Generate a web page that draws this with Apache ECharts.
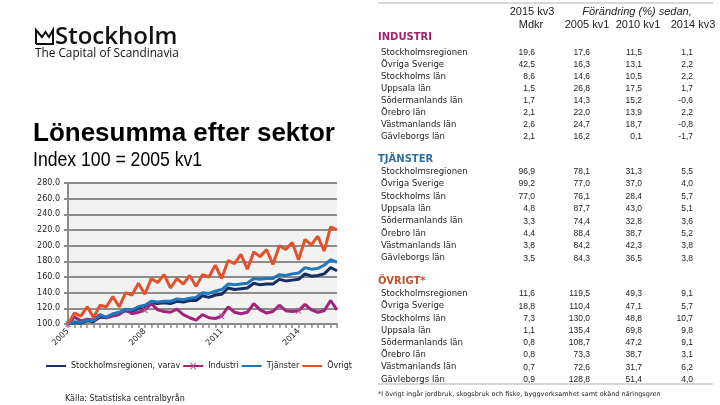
<!DOCTYPE html>
<html><head><meta charset="utf-8">
<script src="https://cdn.jsdelivr.net/npm/echarts@6/dist/echarts.min.js"></script>
<style>html,body{margin:0;padding:0;background:#fff}#c{width:720px;height:405px}</style>
</head><body><div id="c"></div>
<script>
const categories = ['2005 kv1','2005 kv2','2005 kv3','2005 kv4','2006 kv1','2006 kv2','2006 kv3','2006 kv4',
 '2007 kv1','2007 kv2','2007 kv3','2007 kv4','2008 kv1','2008 kv2','2008 kv3','2008 kv4',
 '2009 kv1','2009 kv2','2009 kv3','2009 kv4','2010 kv1','2010 kv2','2010 kv3','2010 kv4',
 '2011 kv1','2011 kv2','2011 kv3','2011 kv4','2012 kv1','2012 kv2','2012 kv3','2012 kv4',
 '2013 kv1','2013 kv2','2013 kv3','2013 kv4','2014 kv1','2014 kv2','2014 kv3','2014 kv4',
 '2015 kv1','2015 kv2','2015 kv3'];
const stockholmsregionen = [100,102,101,104,103,109,108,112,114,117,116,120,122,127,126,127,126,129,128,130,130,136,134,137,138,146,144,145,146,152,150,151,151,157,155,156,157,164,161,162,164,172,168];
const industri = [100,109,104,106,105,112,108,110,112,118,113,115,118,126,118,116,115,119,112,108,105,112,108,107,110,122,115,113,115,126,118,114,116,124,117,116,117,125,118,115,117,130,118];
const tjanster = [100,103,102,105,104,111,109,113,115,119,118,122,124,129,128,129,129,132,131,133,134,140,139,142,144,151,150,151,152,158,157,158,158,163,162,164,165,172,170,171,175,182,179];
const ovrigt = [100,114,110,122,108,124,122,135,122,140,137,152,138,158,153,163,146,158,151,162,148,163,160,175,158,181,177,189,170,192,186,195,176,200,195,204,182,208,201,212,193,224,220];
const yTicks = {min:100, max:280, interval:20};

const rowLabels = ['Stockholmsregionen','Övriga Sverige','Stockholms län','Uppsala län','Södermanlands län','Örebro län','Västmanlands län','Gävleborgs län'];
const industriMdkr = [19.6,42.5,8.6,1.5,1.7,2.1,2.6,2.1];
const industri2005 = [17.6,16.3,14.6,26.8,14.3,22.0,24.7,16.2];
const industri2010 = [11.5,13.1,10.5,17.5,15.2,13.9,18.7,0.1];
const industri2014 = [1.1,2.2,2.2,1.7,-0.6,2.2,-0.8,-1.7];
const tjansterMdkr = [96.9,99.2,77.0,4.8,3.3,4.4,3.8,3.5];
const tjanster2005 = [78.1,77.0,76.1,87.7,74.4,88.4,84.2,84.3];
const tjanster2010 = [31.3,37.0,28.4,43.0,32.8,38.7,42.3,36.5];
const tjanster2014 = [5.5,4.0,5.7,5.1,3.6,5.2,3.8,3.8];
const ovrigtMdkr = [11.6,18.8,7.3,1.1,0.8,0.8,0.7,0.9];
const ovrigt2005 = [119.5,110.4,130.0,135.4,108.7,73.3,72.6,128.8];
const ovrigt2010 = [49.3,47.1,48.8,69.8,47.2,38.7,31.7,51.4];
const ovrigt2014 = [9.1,5.7,10.7,9.8,9.1,3.1,6.2,4.0];

const fmt = v => v.toFixed(1).replace('.', ',');
const G = [];
function txt(x, y, text, font, fill, align, sx) {
  G.push({type:'text', x:x, y:y, scaleX:sx||1, silent:true, style:{text:text, font:font, fill:fill||'#222',
    textAlign:align||'left', align:align||'left', textVerticalAlign:'middle', verticalAlign:'middle'}});
}
// logo
G.push({type:'polyline', silent:true, shape:{points:[[36,44],[36,30],[42,37],[45.5,32],[49,37],[53,30],[53,44],[36,44]]},
  style:{stroke:'#111', lineWidth:2, fill:null}});
txt(55, 37, 'Stockholm', '600 24px "Open Sans"', '#111');
txt(35, 54, 'The Capital of Scandinavia', '11.8px "Open Sans"', '#111');
txt(33, 133.5, 'Lönesumma efter sektor', 'bold 26px "Liberation Sans"', '#000');
txt(33, 160, 'Index 100 = 2005 kv1', '21px "Liberation Sans"', '#000', 'left', 0.84);
txt(65, 399, 'Källa: Statistiska centralbyrån', '8px "DejaVu Sans"', '#222');

// table
G.push({type:'line', silent:true, shape:{x1:378,y1:3,x2:713,y2:3}, style:{stroke:'#d9d9d9', lineWidth:2}});
G.push({type:'line', silent:true, shape:{x1:378,y1:384,x2:713,y2:384}, style:{stroke:'#d9d9d9', lineWidth:2}});
const hf = '11px "Liberation Sans"';
txt(532, 11.7, '2015 kv3', hf, '#222', 'center');
txt(637, 11.7, 'Förändring (%) sedan,', 'italic ' + hf, '#222', 'center');
txt(531, 25, 'Mdkr', hf, '#222', 'center');
txt(587, 25, '2005 kv1', hf, '#222', 'center');
txt(638, 25, '2010 kv1', hf, '#222', 'center');
txt(693, 25, '2014 kv3', hf, '#222', 'center');
const colsX = [535, 590, 642, 693];
function section(title, color, ty, y0, dy, cols) {
  txt(378, ty, title, 'bold 10px "DejaVu Sans"', color);
  rowLabels.forEach((lab, i) => {
    const y = y0 + dy * i;
    txt(381, y, lab, '8.5px "DejaVu Sans"', '#222');
    cols.forEach((arr, c) => txt(colsX[c], y, fmt(arr[i]), '8.5px "Liberation Sans"', '#222', 'right'));
  });
}
section('INDUSTRI', '#a3206f', 37.5, 52.3, 12.05, [industriMdkr, industri2005, industri2010, industri2014]);
section('TJÄNSTER', '#2d6e9f', 159, 171.7, 12.37, [tjansterMdkr, tjanster2005, tjanster2010, tjanster2014]);
section('ÖVRIGT*', '#c0502f', 281.7, 294, 12.2, [ovrigtMdkr, ovrigt2005, ovrigt2010, ovrigt2014]);
txt(378, 394, '*I övrigt ingår jordbruk, skogsbruk och fiske, byggverksamhet samt okänd näringsgren', '6.5px "DejaVu Sans"', '#222');

const xPath = 'path://M0,0 L2,0 L5,3.5 L8,0 L10,0 L6,5 L10,10 L8,10 L5,6.5 L2,10 L0,10 L4,5 Z';
const chart = echarts.init(document.getElementById('c'), null, {renderer:'canvas'});
chart.setOption({
  animation:false,
  backgroundColor:'#fff',
  graphic:G,
  grid:{left:68, right:383, top:183, bottom:81, show:true, backgroundColor:'#f2f2f2', borderWidth:0},
  legend:{left:40, top:357, itemWidth:20, itemHeight:8, itemGap:2,
    textStyle:{fontFamily:'DejaVu Sans', fontSize:8, color:'#222'},
    data:[
      {name:'Stockholmsregionen, varav', itemStyle:{opacity:0}, lineStyle:{width:2}},
      {name:'Industri', lineStyle:{width:2}},
      {name:'Tjänster', itemStyle:{opacity:0}, lineStyle:{width:2}},
      {name:'Övrigt', itemStyle:{opacity:0}, lineStyle:{width:2}}
    ]},
  xAxis:{type:'category', data:categories, boundaryGap:false,
    axisLine:{lineStyle:{color:'#8c8c8c', width:2}},
    axisTick:{show:true, interval:0, length:4, lineStyle:{color:'#8c8c8c', width:1.5}},
    axisLabel:{interval:11, rotate:45, formatter:v => v.slice(0,4), fontFamily:'DejaVu Sans', fontSize:8, color:'#222', margin:6},
    splitLine:{show:false}},
  yAxis:{type:'value', min:yTicks.min, max:yTicks.max, interval:yTicks.interval,
    axisLine:{show:true, lineStyle:{color:'#8c8c8c', width:2}},
    axisTick:{show:true, length:4, lineStyle:{color:'#8c8c8c', width:2}},
    axisLabel:{formatter:v => v.toFixed(1), fontFamily:'DejaVu Sans', fontSize:8, color:'#222', margin:8},
    splitLine:{show:true, lineStyle:{color:'#8c8c8c', width:2}}},
  series:[
    {name:'Stockholmsregionen, varav', type:'line', data:stockholmsregionen, symbol:'none', lineStyle:{color:'#162f5e', width:3}, itemStyle:{color:'#162f5e'}},
    {name:'Industri', type:'line', data:industri, symbol:xPath, symbolSize:6, showSymbol:true, lineStyle:{color:'#a3237a', width:3}, itemStyle:{color:'#b0559a'}},
    {name:'Tjänster', type:'line', data:tjanster, symbol:'none', lineStyle:{color:'#1f76bd', width:3}, itemStyle:{color:'#1f76bd'}},
    {name:'Övrigt', type:'line', data:ovrigt, symbol:'none', lineStyle:{color:'#e0522c', width:3}, itemStyle:{color:'#e0522c'}}
  ]
});
</script></body></html>
